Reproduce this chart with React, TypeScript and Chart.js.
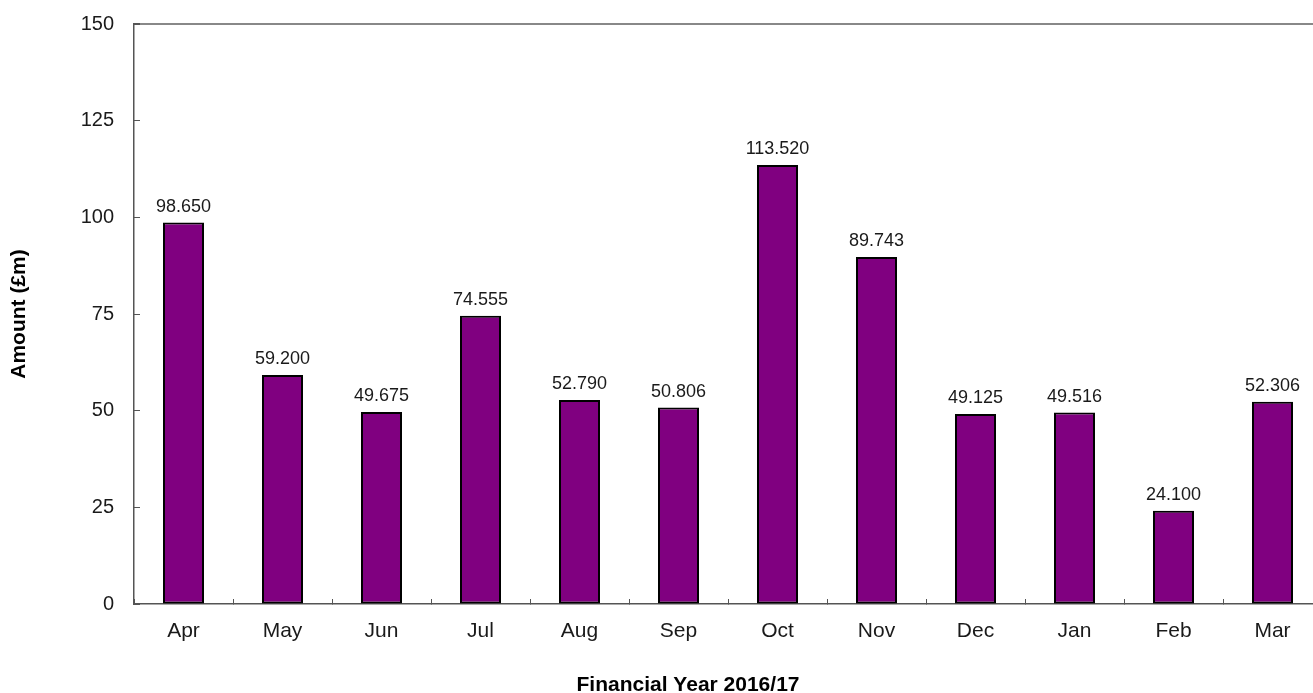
import React, { useEffect, useRef } from "react";
import { Chart, registerables } from "chart.js";

Chart.register(...registerables);

const months = ["Apr", "May", "Jun", "Jul", "Aug", "Sep", "Oct", "Nov", "Dec", "Jan", "Feb", "Mar"];
const amounts = [98.65, 59.2, 49.675, 74.555, 52.79, 50.806, 113.52, 89.743, 49.125, 49.516, 24.1, 52.306];
const yTicksMin = 0;
const yTicksMax = 150;
const yTickStep = 25;
const xTitle = "Financial Year 2016/17";
const yTitle = "Amount (£m)";

const FONT = "'Liberation Sans', Arial, sans-serif";

const valueLabels = {
  id: "valueLabels",
  afterDatasetsDraw(chart: any) {
    const ctx = chart.ctx;
    const meta = chart.getDatasetMeta(0);
    ctx.save();
    ctx.font = `18px ${FONT}`;
    ctx.fillStyle = "#1a1a1a";
    ctx.textAlign = "center";
    ctx.textBaseline = "alphabetic";
    meta.data.forEach((bar: any, i: number) => {
      const v = chart.data.datasets[0].data[i] as number;
      ctx.fillText(v.toFixed(3), bar.x, bar.y - 11);
    });
    ctx.restore();
  },
};

export default function App() {
  const ref = useRef<HTMLCanvasElement>(null);
  useEffect(() => {
    if (!ref.current) return;
    const chart = new Chart(ref.current, {
      type: "bar",
      data: {
        labels: months,
        datasets: [
          {
            data: amounts,
            backgroundColor: "#800080",
            borderColor: "#000000",
            borderWidth: 2,
            borderSkipped: false,
            barPercentage: 41 / 99,
            categoryPercentage: 1,
          },
        ],
      },
      options: {
        responsive: false,
        animation: false,
        layout: { padding: { top: 24, right: 0, left: 0, bottom: 0 } },
        plugins: {
          legend: { display: false },
          tooltip: { enabled: false },
          title: {
            display: true,
            position: "bottom",
            text: xTitle,
            color: "#000",
            font: { family: FONT, size: 21, weight: "bold" },
            padding: { top: 0, bottom: 2 },
          },
        },
        scales: {
          x: {
            afterFit: (s: any) => {
              s.height = 68.8;
            },
            grid: {
              display: true,
              drawOnChartArea: false,
              drawTicks: true,
              tickLength: -5,
              tickColor: "#555",
              offset: true,
            },
            border: { display: true, color: "#555", width: 1.5 },
            ticks: {
              color: "#1a1a1a",
              font: { family: FONT, size: 21 },
              padding: 20,
              maxRotation: 0,
            },
          },
          y: {
            min: yTicksMin,
            max: yTicksMax,
            afterFit: (s: any) => {
              s.width = 134;
              s.paddingTop = 0;
              s.paddingBottom = 0;
            },
            grid: {
              display: true,
              drawOnChartArea: true,
              drawTicks: true,
              tickLength: -6,
              tickColor: "#555",
              color: (c: any) => (c.tick && c.tick.value === yTicksMax ? "#888" : "rgba(0,0,0,0)"),
              lineWidth: (c: any) => (c.tick && c.tick.value === yTicksMax ? 2 : 1),
            },
            border: { display: true, color: "#555", width: 1.5 },
            ticks: {
              stepSize: yTickStep,
              color: "#1a1a1a",
              font: { family: FONT, size: 20 },
              padding: 26,
            },
            title: {
              display: true,
              text: yTitle,
              color: "#000",
              font: { family: FONT, size: 21, weight: "bold" },
              padding: { top: 7, bottom: 0 },
            },
          },
          yRight: {
            type: "linear",
            position: "right",
            display: true,
            afterFit: (s: any) => {
              s.width = 54;
              s.paddingTop = 0;
              s.paddingBottom = 0;
            },
            grid: { display: false, drawTicks: false },
            border: { display: false },
            ticks: { display: false },
          },
        },
      },
      plugins: [valueLabels],
    });
    return () => chart.destroy();
  }, []);
  return (
    <div
      style={{
        position: "absolute",
        left: 0,
        top: 0,
        width: 1313,
        height: 693,
        overflow: "hidden",
        background: "#fff",
      }}
    >
      <canvas ref={ref} width={1376} height={700} style={{ display: "block" }} />
    </div>
  );
}
